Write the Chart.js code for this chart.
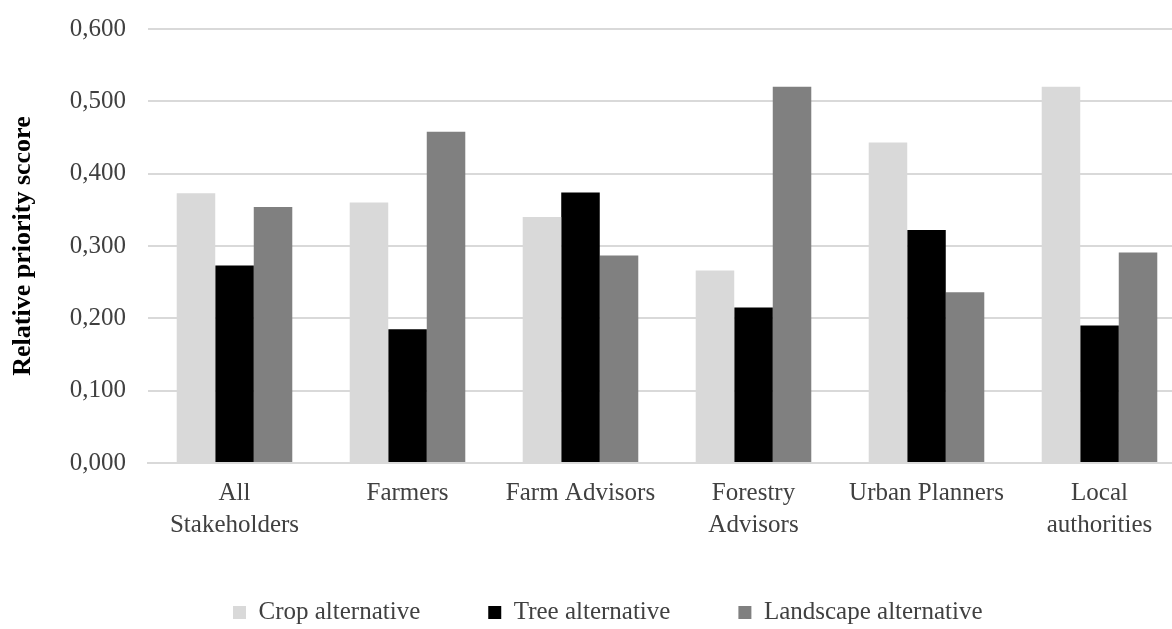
<!DOCTYPE html>
<html>
<head>
<meta charset="utf-8">
<script src="https://cdn.jsdelivr.net/npm/chart.js@4"></script>
<style>
  html, body { margin: 0; padding: 0; background: #fff; overflow: hidden; }
  /* the original is cut off on the right, so the canvas runs a bit past the page */
  #wrap { width: 1172px; height: 629px; overflow: hidden; }
</style>
</head>
<body>
<div id="wrap"><canvas id="chart" width="1186" height="629"></canvas></div>
<script>
var categories = [
    ["All", "Stakeholders"],
    "Farmers",
    "Farm Advisors",
    ["Forestry", "Advisors"],
    "Urban Planners",
    ["Local", "authorities"]
];
var cropValues = [0.373, 0.360, 0.340, 0.266, 0.443, 0.520];
var treeValues = [0.273, 0.185, 0.374, 0.215, 0.322, 0.190];
var landscapeValues = [0.354, 0.458, 0.287, 0.520, 0.236, 0.291];
var yTicks = [0, 0.1, 0.2, 0.3, 0.4, 0.5, 0.6];

var serif = "'Liberation Serif', 'Times New Roman', serif";
Chart.defaults.font.family = serif;
Chart.defaults.color = "#404040";
Chart.defaults.animation = false;

// put the legend where it is in the original, and let the
// two-line category labels run down over the legend strip
var legendPlace = {
    id: 'legendPlace',
    afterLayout: function (chart) {
        chart.legend.left = 165;
        chart.legend.top = 532;
        chart.scales.x.bottom = chart.height;
    }
};

var ctx = document.getElementById("chart");
var chartInstance = new Chart(ctx, {
    type: 'bar',
    data: {
        labels: categories,
        datasets: [{
            label: "Crop alternative",
            backgroundColor: "#d9d9d9",
            data: cropValues
        }, {
            label: "Tree alternative",
            backgroundColor: "#000000",
            data: treeValues
        }, {
            label: "Landscape alternative",
            backgroundColor: "#808080",
            data: landscapeValues
        }]
    },
    plugins: [legendPlace],
    options: {
        responsive: false,
        categoryPercentage: 0.668,
        barPercentage: 1.0,
        layout: {
            padding: { left: 0, right: 0, top: 29, bottom: 0 }
        },
        plugins: {
            tooltip: { enabled: false },
            legend: {
                position: 'bottom',
                align: 'start',
                labels: {
                    boxWidth: 13,
                    boxHeight: 13,
                    padding: 68,
                    color: "#404040",
                    font: { size: 25, family: serif }
                }
            }
        },
        scales: {
            x: {
                grid: { display: false, drawTicks: false },
                border: { color: "#d9d9d9", width: 2 },
                ticks: {
                    color: "#404040",
                    padding: 14,
                    maxRotation: 0,
                    autoSkip: false,
                    font: { size: 25, family: serif, lineHeight: 1.28 }
                },
                afterFit: function (scale) {
                    scale.height = 63;
                }
            },
            y: {
                min: 0,
                max: 0.6,
                afterBuildTicks: function (scale) {
                    scale.ticks = yTicks.map(function (v) { return { value: v }; });
                },
                grid: { color: "#d9d9d9", lineWidth: 2, drawTicks: false },
                border: { display: false },
                ticks: {
                    color: "#404040",
                    padding: 22,
                    font: { size: 25, family: serif },
                    callback: function (v) {
                        return Number(v).toFixed(3).replace('.', ',');
                    }
                },
                title: {
                    display: true,
                    text: "Relative priority sccore",
                    color: "#000000",
                    padding: { top: 8, bottom: 0 },
                    font: { size: 26, weight: 'bold', family: serif }
                },
                afterFit: function (scale) {
                    scale.width = 148;
                    scale.paddingTop = 0;
                    scale.paddingBottom = 0;
                }
            }
        }
    }
});
</script>
</body>
</html>
